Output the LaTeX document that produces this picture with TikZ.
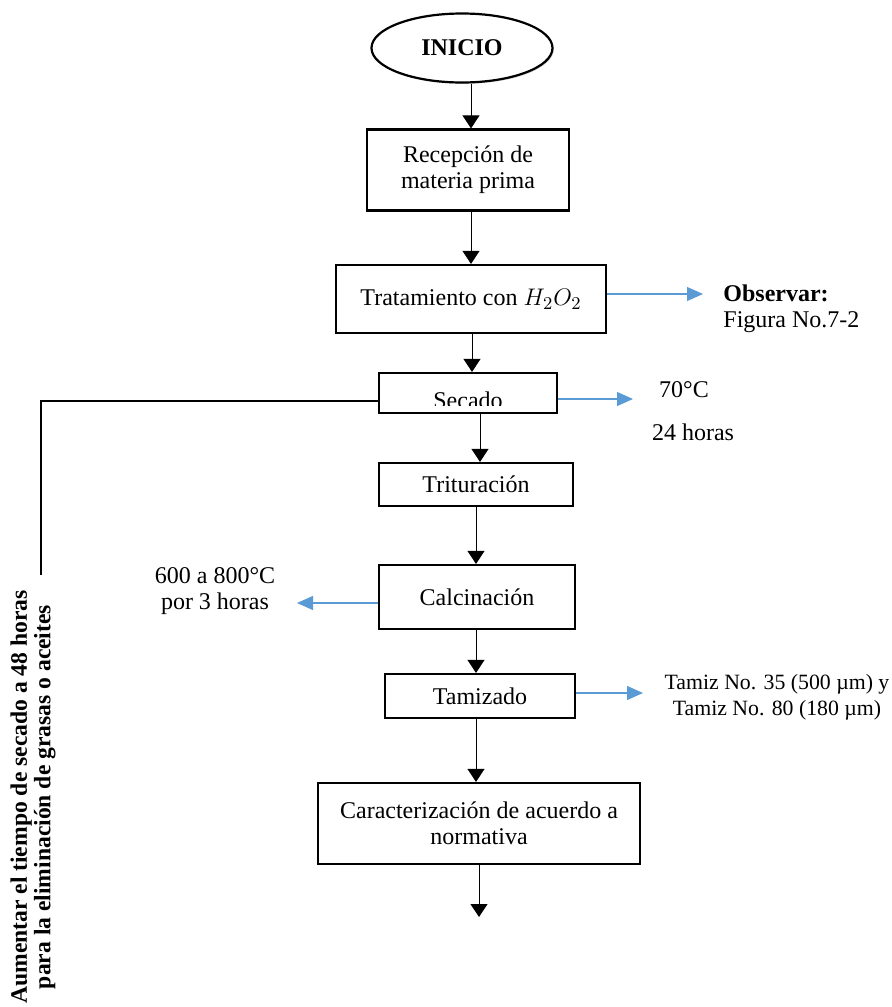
\documentclass[tikz,border=0pt]{standalone}
\usepackage{fontspec}
\setmainfont{Liberation Serif}
\usetikzlibrary{shapes.geometric,shadows,arrows.meta}
\definecolor{azulflecha}{HTML}{5B9BD5}

\begin{document}
\begin{tikzpicture}[x=0.5pt,y=-0.5pt,
    font=\fontsize{12}{13}\selectfont,
    procbox/.style={draw, line width=1.1pt, fill=white, align=center, inner sep=2pt,
        drop shadow={shadow xshift=0.7pt, shadow yshift=-0.7pt, opacity=0.3}},
    flecha/.style={-{Triangle[width=8.5pt,length=6.5pt]}, line width=0.5pt},
    flechaazul/.style={-{Triangle[width=7pt,length=8pt]}, draw=azulflecha, fill=azulflecha, line width=0.6pt}]
    \useasboundingbox (0,0) rectangle (892,1007);

    % Inicio
    \node[procbox, ellipse, inner sep=0pt, minimum width=90.5pt, minimum height=34.5pt] (inicio) at (462,48) {\textbf{INICIO}};

    % Recepcion
    \node[procbox, minimum width=101pt, minimum height=40.5pt] (recepcion) at (468,170) {Recepción de\\materia prima};

    % Tratamiento
    \node[procbox, minimum width=135pt, minimum height=34pt] (tratamiento) at (471,299) {Tratamiento con {\fontsize{13}{13}\selectfont$H_2O_2$}};

    % Secado (texto recortado por la caja)
    \node[procbox, minimum width=89pt, minimum height=20pt] (secado) at (468,393) {};
    \begin{scope}
        \clip (381,375) rectangle (555,405);
        \node[anchor=base, inner sep=0pt] (secadotxt) at (468,408) {Secado};
    \end{scope}

    % Trituracion
    \node[procbox, minimum width=97pt, minimum height=21.5pt] (trituracion) at (476,484.5) {Trituración};

    % Calcinacion
    \node[procbox, minimum width=98pt, minimum height=32pt] (calcinacion) at (477,597) {Calcinación};

    % Tamizado
    \node[procbox, minimum width=95pt, minimum height=22pt] (tamizado) at (480,696) {Tamizado};

    % Caracterizacion
    \node[procbox, minimum width=161pt, minimum height=40.5pt] (caracterizacion) at (479,823.5) {Caracterización de acuerdo a\\normativa};
    \coordinate (fin) at (479,917);

    % Flujo principal
    \draw[flecha] (inicio.south -| 471,0) -- (recepcion.north -| 471,0);
    \draw[flecha] (recepcion.south -| 471,0) -- (tratamiento.north -| 471,0);
    \draw[flecha] (tratamiento.south -| 472,0) -- (secado.north -| 472,0);
    \draw[flecha] (secado.south -| 480,0) -- (trituracion.north -| 480,0);
    \draw[flecha] (trituracion.south -| 476,0) -- (calcinacion.north -| 476,0);
    \draw[flecha] (calcinacion.south -| 476,0) -- (tamizado.north -| 476,0);
    \draw[flecha] (tamizado.south -| 476,0) -- (caracterizacion.north -| 476,0);
    \draw[flecha] (caracterizacion.south -| fin) -- (fin);

    % Observar
    \node[anchor=west, align=left, inner sep=0pt] (observar) at (723,309) {\textbf{Observar:}\\Figura No.7-2};
    \coordinate (obsflecha) at (703,294);
    \draw[flechaazul] (tratamiento.east |- obsflecha) -- (obsflecha);

    % Condiciones de secado
    \node (temp) at (684,390) {70°C};
    \node (tiempo) at (693,432) {24 horas};
    \coordinate (secflecha) at (633,399);
    \draw[flechaazul] (secado.east |- secflecha) -- (secflecha);

    % Condiciones de calcinacion
    \node[align=center] (calcond) at (215,591) {600 a 800°C\\por 3 horas};
    \coordinate (calflecha) at (297,603);
    \draw[flechaazul] (calcinacion.west |- calflecha) -- (calflecha);

    % Tamices
    \node[align=center, font=\fontsize{10.9}{13}\selectfont] (tamices) at (777,697) {Tamiz No. 35 (500 µm) y\\Tamiz No. 80 (180 µm)};
    \coordinate (tamflecha) at (643,693);
    \draw[flechaazul] (tamizado.east |- tamflecha) -- (tamflecha);

    % Retroalimentacion del secado
    \coordinate (retro) at (41,401);
    \coordinate (retrofin) at (41,575);
    \draw[line width=0.6pt] (secado.west |- retro) -- (retro) -- (retrofin);
    \node[rotate=90, align=center, font=\bfseries\fontsize{11.8}{11.8}\selectfont] (nota) at (33,797) {Aumentar el tiempo de secado a 48 horas\\para la eliminación de grasas o aceites};
\end{tikzpicture}
\end{document}
